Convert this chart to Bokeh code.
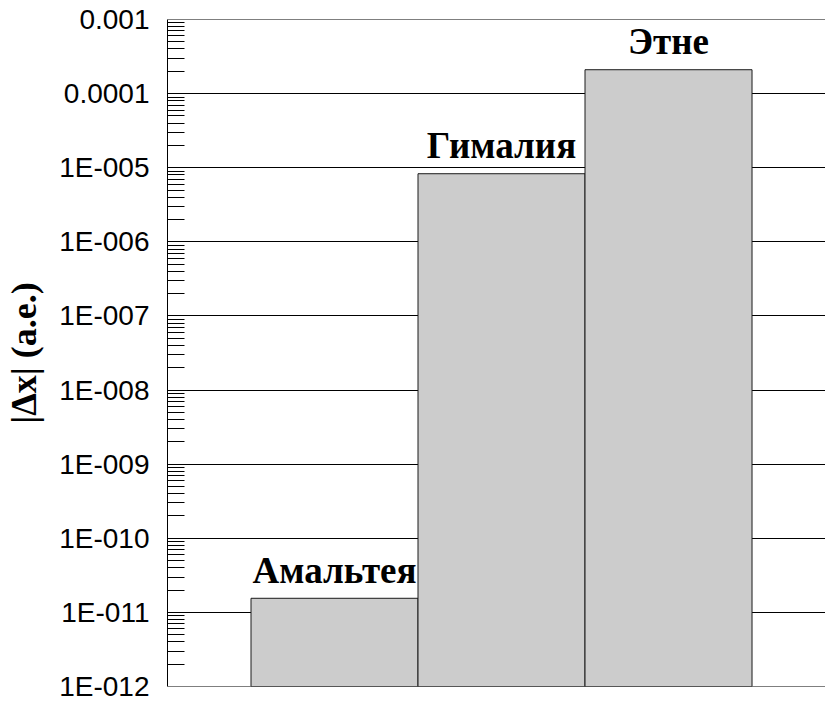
from bokeh.plotting import figure
from bokeh.models import ColumnDataSource, Range1d, FixedTicker, CustomJSTickFormatter, Span
from bokeh.core.properties import value
from bokeh.embed import file_html
from bokeh.resources import INLINE

# Bodies and their |Δx| values (AU)
bodies = ["Амальтея", "Гималия", "Этне"]
delta_x = [1.55e-11, 8.3e-6, 2.1e-4]

# Decade ticks on the log axis and their labels
decades = [1e-12, 1e-11, 1e-10, 1e-9, 1e-8, 1e-7, 1e-6, 1e-5, 1e-4, 1e-3]
tick_labels = ["1E-012", "1E-011", "1E-010", "1E-009", "1E-008",
               "1E-007", "1E-006", "1E-005", "0.0001", "0.001"]
minor = [k * d for d in decades[:-1] for k in range(2, 10)]

src = ColumnDataSource(dict(x=[1, 2, 3], top=delta_x, name=bodies))

p = figure(width=825, height=702, y_axis_type="log",
           x_range=Range1d(0, 3.94), y_range=Range1d(decades[0], decades[-1]),
           output_backend="svg", toolbar_location=None,
           min_border_left=167, min_border_right=0,
           min_border_top=19, min_border_bottom=16)
p.outline_line_color = None
p.background_fill_color = "white"
p.border_fill_color = "white"

# frame lines at the lowest and highest decade
for d in (decades[0], decades[-1]):
    p.add_layout(Span(location=d, dimension="width", line_color="black",
                      line_width=1, level="underlay"))

p.vbar(x="x", top="top", bottom=decades[0], width=1.0, source=src,
       fill_color="#cccccc", line_color="#1a1a1a", line_width=1)

p.text(x="x", y="top", text="name", source=src,
       text_align="center", text_baseline="alphabetic", y_offset=-28,
       text_font=value("Liberation Serif"), text_font_style="bold",
       text_font_size="37px", text_color="black")

p.xaxis.visible = False
p.xgrid.visible = False

ya = p.yaxis[0]
ya.ticker = FixedTicker(ticks=decades, minor_ticks=minor)
ya.formatter = CustomJSTickFormatter(
    args=dict(labels=tick_labels),
    code="return labels[Math.round(Math.log10(tick)) + 12];")
ya.major_label_text_font = "Liberation Sans"
ya.major_label_text_font_size = "28px"
ya.major_label_text_color = "black"
ya.major_label_standoff = 18
ya.major_tick_in = 0
ya.major_tick_out = 0
ya.minor_tick_in = 17
ya.minor_tick_out = 0
ya.minor_tick_line_color = "black"
ya.axis_line_color = "black"
ya.axis_label = "|Δx| (а.е.)"
ya.axis_label_text_font = "Liberation Serif"
ya.axis_label_text_font_style = "bold"
ya.axis_label_text_font_size = "36px"
ya.axis_label_text_color = "black"
ya.axis_label_standoff = 12

p.ygrid.grid_line_color = "black"
p.ygrid.grid_line_width = 1
p.ygrid.grid_line_alpha = 1.0

open("out.html", "w").write(file_html(p, INLINE))
